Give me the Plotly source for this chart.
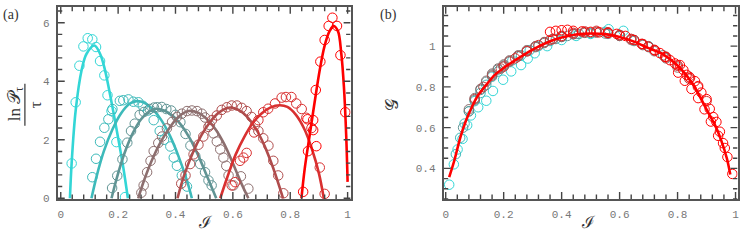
import plotly.graph_objects as go

W, H = 747, 242

# ---------------- Panel (a) data ----------------
colors = ['#33d6d6', '#3dbaba', '#609494', '#8d6f6f', '#b04c4c', '#d93030', '#ff0000']

a_line_I = [
    [0.032, 0.038, 0.052, 0.073, 0.09, 0.117, 0.137, 0.154, 0.177, 0.198, 0.218, 0.234],
    [0.107, 0.125, 0.15, 0.18, 0.21, 0.24, 0.265, 0.29, 0.32, 0.35, 0.38, 0.41, 0.44, 0.457],
    [0.177, 0.195, 0.22, 0.25, 0.28, 0.31, 0.33, 0.36, 0.39, 0.42, 0.45, 0.48, 0.51, 0.542],
    [0.27, 0.29, 0.32, 0.35, 0.38, 0.41, 0.445, 0.48, 0.51, 0.54, 0.57, 0.60, 0.63, 0.654],
    [0.407, 0.43, 0.46, 0.49, 0.52, 0.55, 0.59, 0.62, 0.65, 0.68, 0.71, 0.74, 0.775],
    [0.556, 0.58, 0.61, 0.64, 0.67, 0.70, 0.73, 0.764, 0.79, 0.82, 0.85, 0.875, 0.9, 0.917],
    [0.839, 0.851, 0.868, 0.885, 0.903, 0.92, 0.9375, 0.951, 0.966, 0.978, 0.987, 0.995, 1.0],
]
a_line_y = [
    [0, 1.2, 3.0, 4.39, 4.94, 5.22, 4.94, 4.39, 3.28, 2.17, 1.05, 0],
    [0, 0.75, 1.6, 2.35, 2.9, 3.23, 3.32, 3.27, 3.05, 2.68, 2.15, 1.45, 0.6, 0],
    [0, 0.68, 1.48, 2.2, 2.7, 2.98, 3.06, 3.0, 2.82, 2.5, 2.05, 1.45, 0.75, 0],
    [0, 0.6, 1.35, 1.95, 2.42, 2.78, 2.98, 2.92, 2.7, 2.35, 1.85, 1.2, 0.5, 0],
    [0, 0.78, 1.55, 2.15, 2.6, 2.92, 3.1, 3.02, 2.78, 2.38, 1.8, 1.05, 0],
    [0, 0.7, 1.5, 2.1, 2.58, 2.9, 3.1, 3.18, 3.12, 2.85, 2.35, 1.7, 0.85, 0],
    [0, 1.05, 2.17, 3.28, 4.39, 5.22, 5.72, 5.89, 5.72, 4.94, 3.83, 2.17, 0.56],
]
a_pts_I = [
    [0.038, 0.052, 0.065, 0.079, 0.094, 0.110, 0.123, 0.137, 0.152, 0.163, 0.177, 0.194, 0.224],
    [0.11, 0.123, 0.137, 0.152, 0.166, 0.18, 0.206, 0.218, 0.236, 0.253, 0.271, 0.286, 0.304,
     0.324, 0.345, 0.36, 0.382, 0.394, 0.405, 0.422, 0.44],
    [0.179, 0.197, 0.215, 0.232, 0.245, 0.258, 0.275, 0.29, 0.31, 0.325, 0.336, 0.352, 0.368,
     0.385, 0.40, 0.417, 0.435, 0.452, 0.469, 0.486, 0.503, 0.515, 0.526],
    [0.281, 0.289, 0.301, 0.313, 0.324, 0.34, 0.353, 0.37, 0.388, 0.405, 0.422, 0.44, 0.457,
     0.475, 0.492, 0.503, 0.52, 0.532, 0.544, 0.556, 0.567, 0.577, 0.585, 0.602, 0.628, 0.654],
    [0.42, 0.435, 0.451, 0.463, 0.48, 0.497, 0.515, 0.527, 0.544, 0.561, 0.579, 0.596, 0.614,
     0.631, 0.648, 0.665, 0.677, 0.689, 0.706, 0.724, 0.741, 0.758, 0.776],
    [0.596, 0.608, 0.625, 0.637, 0.648, 0.674, 0.689, 0.706, 0.723, 0.747, 0.77, 0.785, 0.804,
     0.821, 0.84, 0.856, 0.874, 0.903, 0.92],
    [0.845, 0.862, 0.86, 0.88, 0.88, 0.891, 0.889, 0.905, 0.92, 0.934, 0.947, 0.963, 0.975, 0.992],
]
a_pts_y = [
    [1.19, 3.28, 4.53, 5.19, 5.47, 5.43, 5.17, 4.69, 4.2, 3.52, 2.98, 1.92, 0.04],
    [0.72, 1.35, 1.93, 2.41, 2.7, 3.05, 3.33, 3.35, 3.38, 3.3, 3.28, 3.16, 3.0,
     2.67, 2.3, 2.0, 1.77, 1.39, 1.11, 0.78, 0.4],
    [0.35, 0.77, 1.33, 1.9, 2.3, 2.55, 2.85, 2.95, 3.05, 3.1, 3.11, 3.12, 3.05,
     3.0, 2.85, 2.6, 2.2, 1.8, 1.44, 1.17, 0.89, 0.61, 0.44],
    [0.19, 0.44, 0.89, 1.28, 1.61, 1.89, 2.11, 2.39, 2.61, 2.78, 2.89, 2.98, 3.0,
     2.98, 2.89, 2.76, 2.5, 2.22, 1.94, 1.67, 1.39, 1.11, 0.78, 0.44, 0.75, 0.33],
    [0.5, 0.78, 1.17, 1.5, 1.83, 2.11, 2.44, 2.67, 2.83, 3.02, 3.11, 3.17, 3.17,
     3.09, 2.98, 2.78, 2.5, 2.3, 2.05, 1.8, 1.28, 0.78, 0.17],
    [0.44, 0.55, 1.28, 1.39, 1.55, 2.25, 2.67, 2.94, 3.06, 3.24, 3.44, 3.46, 3.46,
     3.24, 3.05, 2.75, 2.4, 1.05, 0.15],
    [0.22, 1.61, 2.7, 2.67, 2.33, 1.78, 3.7, 4.67, 5.41, 5.89, 6.17, 5.89, 4.89, 2.94],
]

# ---------------- Panel (b) data ----------------
b_line_I = [0.012, 0.03, 0.05, 0.07, 0.09, 0.11, 0.14, 0.17, 0.2, 0.25, 0.3, 0.35, 0.4, 0.45,
            0.5, 0.55, 0.6, 0.65, 0.7, 0.75, 0.8, 0.85, 0.9, 0.93, 0.95, 0.97, 0.982]
b_line_G = [0.357, 0.44, 0.55, 0.635, 0.70, 0.755, 0.81, 0.86, 0.893, 0.94, 0.983, 1.018, 1.042,
            1.057, 1.062, 1.059, 1.045, 1.022, 0.99, 0.96, 0.905, 0.82, 0.69, 0.61, 0.54, 0.45, 0.37]

b_pts_I = [
    [0.012, 0.028, 0.041, 0.058, 0.074, 0.087, 0.112, 0.14, 0.163, 0.198, 0.226, 0.26, 0.283,
     0.307, 0.35, 0.4, 0.45, 0.5, 0.562, 0.613],
    [0.035, 0.05, 0.065, 0.08, 0.1, 0.12, 0.14, 0.16, 0.18, 0.2, 0.23, 0.26, 0.29, 0.32, 0.36,
     0.4, 0.45, 0.5, 0.55, 0.6, 0.65, 0.7],
    [0.06, 0.08, 0.1, 0.12, 0.14, 0.16, 0.18, 0.2, 0.22, 0.25, 0.28, 0.31, 0.34, 0.38, 0.42,
     0.46, 0.5, 0.55, 0.6, 0.65, 0.7, 0.75],
    [0.08, 0.1, 0.12, 0.14, 0.16, 0.18, 0.2, 0.22, 0.25, 0.28, 0.31, 0.34, 0.37, 0.4, 0.44,
     0.48, 0.52, 0.56, 0.6, 0.64, 0.68, 0.72, 0.76, 0.8],
    [0.1, 0.13, 0.16, 0.19, 0.22, 0.25, 0.28, 0.31, 0.34, 0.37, 0.4, 0.44, 0.48, 0.52, 0.56,
     0.6, 0.64, 0.68, 0.72, 0.76, 0.8, 0.84],
    [0.2, 0.24, 0.28, 0.32, 0.36, 0.4, 0.44, 0.48, 0.52, 0.56, 0.6, 0.64, 0.68, 0.72, 0.76,
     0.8, 0.84, 0.87, 0.9],
    [0.36, 0.38, 0.40, 0.42, 0.44, 0.47, 0.5, 0.53, 0.56, 0.59, 0.62, 0.65, 0.676, 0.699,
     0.722, 0.739, 0.757, 0.774, 0.791, 0.808, 0.82, 0.831, 0.843, 0.86, 0.871, 0.882, 0.9,
     0.911, 0.923, 0.934, 0.946, 0.957, 0.963, 0.972, 0.989,
     0.802, 0.825, 0.848, 0.871, 0.893, 0.915, 0.94],
]
b_pts_G = [
    [0.32, 0.42, 0.493, 0.545, 0.612, 0.66, 0.70, 0.732, 0.78, 0.835, 0.876, 0.907, 0.939,
     0.965, 1.0, 1.03, 1.05, 1.06, 1.083, 1.075],
    [0.47, 0.55, 0.62, 0.68, 0.73, 0.77, 0.81, 0.85, 0.875, 0.90, 0.93, 0.955, 0.98, 1.0,
     1.025, 1.045, 1.06, 1.065, 1.07, 1.055, 1.03, 1.0],
    [0.6, 0.68, 0.735, 0.785, 0.825, 0.86, 0.885, 0.905, 0.925, 0.95, 0.975, 0.995, 1.015,
     1.035, 1.05, 1.06, 1.065, 1.062, 1.05, 1.025, 0.995, 0.955],
    [0.69, 0.745, 0.79, 0.83, 0.865, 0.89, 0.91, 0.93, 0.955, 0.98, 1.0, 1.02, 1.035, 1.045,
     1.058, 1.065, 1.066, 1.06, 1.05, 1.03, 1.005, 0.975, 0.94, 0.895],
    [0.74, 0.8, 0.855, 0.89, 0.925, 0.95, 0.975, 0.998, 1.018, 1.035, 1.048, 1.06, 1.068,
     1.07, 1.065, 1.052, 1.035, 1.01, 0.98, 0.945, 0.905, 0.84],
    [0.9, 0.94, 0.975, 1.005, 1.03, 1.05, 1.065, 1.072, 1.075, 1.068, 1.055, 1.035, 1.01,
     0.982, 0.948, 0.905, 0.85, 0.8, 0.73],
    [1.07, 1.075, 1.078, 1.08, 1.075, 1.072, 1.07, 1.068, 1.065, 1.06, 1.05, 1.03, 1.011,
     0.998, 0.979, 0.966, 0.947, 0.931, 0.915, 0.907, 0.883, 0.859, 0.844, 0.828, 0.804,
     0.772, 0.74, 0.692, 0.652, 0.628, 0.58, 0.524, 0.50, 0.456, 0.373,
     0.87, 0.83, 0.79, 0.745, 0.69, 0.63, 0.56],
]

# tick spacing (labels come out as 0, 0.2, ..., 1 / 0, 2, 4, 6 / 0.4 ... 1)
x_major, x_minor = 0.2, 0.04
ya_major, ya_minor = 2, 0.4
yb_major, yb_minor = 0.2, 0.05

# axis geometry
xa_range, ya_range = [-0.0104, 1.0104], [-0.023, 6.543]
xb_range, yb_range = [-0.0069, 1.0069], [0.2502, 1.1928]
a_px = (57, 351)
b_px = (444.5, 739.5)
top_px, bot_px = 7, 204

# ---------------- Figure ----------------
fig = go.Figure()

for k in range(7):
    fig.add_trace(go.Scatter(x=a_pts_I[k], y=a_pts_y[k], mode='markers', xaxis='x', yaxis='y',
                             marker=dict(symbol='circle-open', size=9.5, color=colors[k],
                                         line=dict(width=1, color=colors[k])),
                             hoverinfo='skip', showlegend=False))
    fig.add_trace(go.Scatter(x=a_line_I[k], y=a_line_y[k], mode='lines', xaxis='x', yaxis='y',
                             line=dict(color=colors[k], width=2.6, shape='spline', smoothing=1.0),
                             hoverinfo='skip', showlegend=False))

for k in range(7):
    fig.add_trace(go.Scatter(x=b_pts_I[k], y=b_pts_G[k], mode='markers', xaxis='x2', yaxis='y2',
                             marker=dict(symbol='circle-open', size=9.5, color=colors[k],
                                         line=dict(width=1, color=colors[k])),
                             hoverinfo='skip', showlegend=False))
fig.add_trace(go.Scatter(x=b_line_I, y=b_line_G, mode='lines', xaxis='x2', yaxis='y2',
                         line=dict(color='#ff0000', width=2.6, shape='spline', smoothing=0.8),
                         hoverinfo='skip', showlegend=False))


# inside tick marks on all four sides, drawn through each panel's own axes
def add_ticks(xaxis, yaxis, xr, yr, xpx, xvals, yvals, x_every, y_every):
    ux = (xr[1] - xr[0]) / (xpx[1] - xpx[0])      # data units per pixel
    uy = (yr[1] - yr[0]) / (bot_px - top_px)
    tx, ty = [], []
    for i, v in xvals:
        L = 7 if i % x_every == 0 else 4.5
        tx += [v, v, None, v, v, None]
        ty += [yr[0], yr[0] + L * uy, None, yr[1] - L * uy, yr[1], None]
    for i, v in yvals:
        L = 7 if i % y_every == 0 else 4.5
        tx += [xr[0], xr[0] + L * ux, None, xr[1] - L * ux, xr[1], None]
        ty += [v, v, None, v, v, None]
    fig.add_trace(go.Scatter(x=tx, y=ty, mode='lines', xaxis=xaxis, yaxis=yaxis,
                             line=dict(color='#444444', width=1.4), connectgaps=False,
                             hoverinfo='skip', showlegend=False))

x_tick_list = [(i, round(i * x_minor, 4)) for i in range(26)]
add_ticks('x', 'y', xa_range, ya_range, a_px, x_tick_list,
          [(i, round(i * ya_minor, 4)) for i in range(17)], 5, 5)
add_ticks('x2', 'y2', xb_range, yb_range, b_px, x_tick_list,
          [(i, round(i * yb_minor, 4)) for i in range(5, 24)], 5, 4)

tickfont = dict(family='Liberation Mono, Courier New, monospace', size=11, color='#777777')
common = dict(showline=True, linecolor='#555555', linewidth=2, mirror=True,
              ticks='', showgrid=False, zeroline=False, tickfont=tickfont)

def ymap(py):
    return 1 - py / H

fig.update_layout(
    width=W, height=H,
    margin=dict(l=0, r=0, t=0, b=0),
    paper_bgcolor='white', plot_bgcolor='white',
    showlegend=False,
    xaxis=dict(domain=[a_px[0] / W, a_px[1] / W], range=xa_range, anchor='y',
               tick0=0, dtick=x_major, ticklabelstandoff=4, **common),
    yaxis=dict(domain=[ymap(bot_px), ymap(top_px)], range=ya_range, anchor='x',
               tick0=0, dtick=ya_major, ticklabelstandoff=4, **common),
    xaxis2=dict(domain=[b_px[0] / W, b_px[1] / W], range=xb_range, anchor='y2',
                tick0=0, dtick=x_major, ticklabelstandoff=4, **common),
    yaxis2=dict(domain=[ymap(bot_px), ymap(top_px)], range=yb_range, anchor='x2',
                tick0=0, dtick=yb_major, ticklabelstandoff=4, **common),
)

fig.add_shape(type='line', xref='paper', yref='paper', x0=24 / W, x1=24 / W,
              y0=ymap(86), y1=ymap(129), line=dict(color='#333', width=1.2))

serif = 'Liberation Serif, DejaVu Serif, serif'
ann = [
    dict(text='(a)', x=10 / W, y=ymap(15), font=dict(family=serif, size=14, color='#333')),
    dict(text='(b)', x=389 / W, y=ymap(15), font=dict(family=serif, size=14, color='#333')),
    dict(text='ℐ', x=205 / W, y=ymap(228), font=dict(family=serif, size=17, color='#333')),
    dict(text='ℐ', x=590 / W, y=ymap(228), font=dict(family=serif, size=17, color='#333')),
    dict(text='𝒢', x=393 / W, y=ymap(107), textangle=-90,
         font=dict(family=serif, size=17, color='#333')),
    dict(text='ln 𝒫<sub>τ</sub>', x=15 / W, y=ymap(107), textangle=-90,
         font=dict(family=serif, size=17, color='#333')),
    dict(text='τ', x=34 / W, y=ymap(107), textangle=-90,
         font=dict(family=serif, size=17, color='#333')),
]
for a in ann:
    a.update(xref='paper', yref='paper', showarrow=False, xanchor='center', yanchor='middle')
fig.update_layout(annotations=ann)

fig.write_html('out.html', config={'displayModeBar': False},
               post_script="document.body.style.margin='0';document.body.style.overflow='hidden';")
